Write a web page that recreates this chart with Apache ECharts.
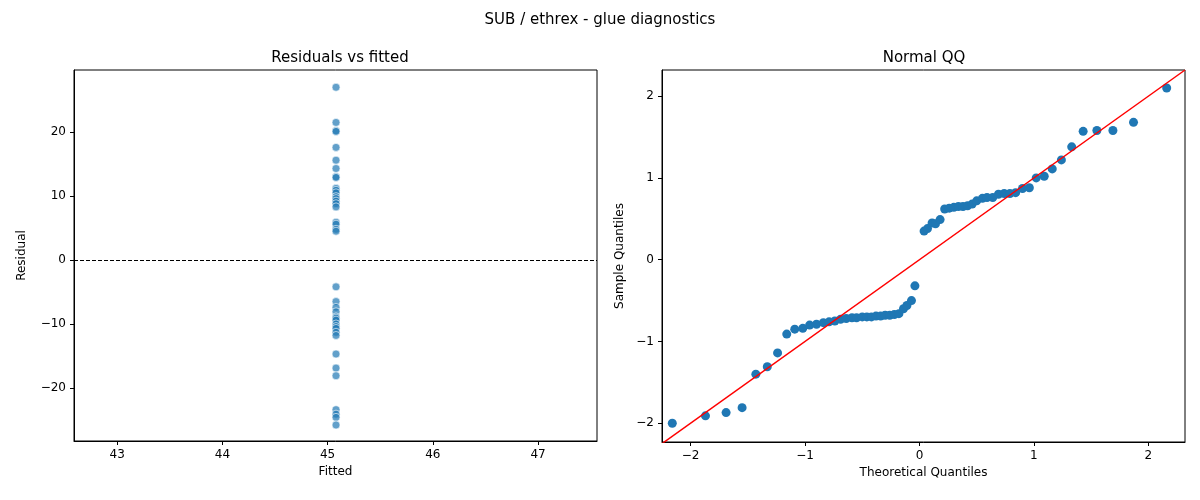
<!DOCTYPE html>
<html>
<head>
<meta charset="utf-8">
<script src="https://cdn.jsdelivr.net/npm/echarts@6/dist/echarts.min.js"></script>
<style>html,body{margin:0;padding:0;background:#fff}#chart{width:1200px;height:500px}</style>
</head>
<body>
<div id="chart"></div>
<script>
// residuals vs fitted (fitted is constant)
var fittedValue = 45.08;
var residuals = [27.0, 21.5, 20.2, 20.1, 17.6, 15.6, 14.3, 13.0, 12.9, 11.2, 10.9, 10.5, 9.9, 9.6, 9.2, 8.8, 8.3, 5.9, 5.6, 4.8, 4.5,
    -4.2, -6.5, -7.4, -8.1, -8.9, -9.1, -9.4, -10.0, -10.4, -10.7, -11.3, -11.8, -14.7, -16.9, -18.1, -23.4, -24.1, -24.6, -25.8];

// normal QQ
var theoQ = [-2.16, -1.87, -1.69, -1.55, -1.43, -1.33, -1.24, -1.16, -1.09, -1.02, -0.96, -0.90, -0.84, -0.79, -0.74, -0.69,
    -0.64, -0.59, -0.55, -0.50, -0.46, -0.42, -0.38, -0.34, -0.30, -0.26, -0.22, -0.18, -0.14, -0.11, -0.07, -0.04,
    0.04, 0.07, 0.11, 0.14, 0.18, 0.22, 0.26, 0.30, 0.34, 0.38, 0.42, 0.46, 0.50, 0.55, 0.59, 0.64,
    0.69, 0.74, 0.79, 0.84, 0.90, 0.96, 1.02, 1.09, 1.16, 1.24, 1.33, 1.43, 1.55, 1.69, 1.87, 2.16];
var sampleQ = [-2.00, -1.91, -1.87, -1.81, -1.40, -1.31, -1.14, -0.91, -0.85, -0.84, -0.80, -0.79, -0.77, -0.76, -0.75, -0.73,
    -0.72, -0.71, -0.71, -0.70, -0.70, -0.70, -0.69, -0.69, -0.68, -0.68, -0.67, -0.66, -0.60, -0.56, -0.50, -0.32,
    0.35, 0.38, 0.45, 0.44, 0.49, 0.62, 0.63, 0.64, 0.65, 0.65, 0.66, 0.68, 0.72, 0.75, 0.76, 0.76,
    0.80, 0.81, 0.81, 0.82, 0.87, 0.88, 1.00, 1.02, 1.11, 1.22, 1.38, 1.57, 1.58, 1.58, 1.68, 2.10];
var refLine = [[-2.25, -2.25], [2.32, 2.32]];

var font = 'DejaVu Sans';
var residData = residuals.map(function (r) { return [fittedValue, r]; });
var qqData = theoQ.map(function (x, i) { return [x, sampleQ[i]]; });

function intLabel(v) {
    return Math.abs(v - Math.round(v)) < 1e-9 ? String(Math.round(v)).replace('-', '\u2212') : '';
}

function axisCommon(extra) {
    var a = {
        axisLine: { show: true, onZero: false, lineStyle: { color: '#000' } },
        axisTick: { show: true, length: 4, lineStyle: { color: '#000' } },
        axisLabel: { color: '#000', fontSize: 12, fontFamily: font, showMinLabel: false, showMaxLabel: false, formatter: intLabel },
        splitLine: { show: false },
        nameTextStyle: { color: '#000', fontSize: 12, fontFamily: font },
        nameLocation: 'middle'
    };
    for (var k in extra) a[k] = extra[k];
    return a;
}

var chart = echarts.init(document.getElementById('chart'));
chart.setOption({
    animation: false,
    title: [
        { text: 'SUB / ethrex - glue diagnostics', left: 'center', top: 8, textStyle: { fontSize: 15, fontWeight: 'normal', fontFamily: font, color: '#000' } },
        { text: 'Residuals vs fitted', left: 335, textAlign: 'center', top: 46, textStyle: { fontSize: 15, fontWeight: 'normal', fontFamily: font, color: '#000' } },
        { text: 'Normal QQ', left: 919, textAlign: 'center', top: 46, textStyle: { fontSize: 15, fontWeight: 'normal', fontFamily: font, color: '#000' } }
    ],
    grid: [
        { left: 74, top: 70, width: 523, height: 371, show: true, borderColor: '#000', borderWidth: 1 },
        { left: 662, top: 70, width: 523, height: 372, show: true, borderColor: '#000', borderWidth: 1 }
    ],
    xAxis: [
        axisCommon({ gridIndex: 0, type: 'value', min: 42.59, max: 47.56, name: 'Fitted', nameGap: 22 }),
        axisCommon({ gridIndex: 1, type: 'value', min: -2.25, max: 2.32, name: 'Theoretical Quantiles', nameGap: 22 })
    ],
    yAxis: [
        axisCommon({ gridIndex: 0, type: 'value', min: -28.3, max: 29.7, name: 'Residual', nameGap: 46,
            axisLabel: { color: '#000', fontSize: 12, fontFamily: font, showMinLabel: false, showMaxLabel: false,
                formatter: function (v) { return v % 10 === 0 ? String(v).replace('-', '\u2212') : ''; } } }),
        axisCommon({ gridIndex: 1, type: 'value', min: -2.23, max: 2.32, name: 'Sample Quantiles', nameGap: 36 })
    ],
    series: [
        {
            type: 'scatter', xAxisIndex: 0, yAxisIndex: 0, data: residData, symbolSize: 8,
            itemStyle: { color: 'rgba(31,119,180,0.7)', borderColor: '#fff', borderWidth: 0.6, opacity: 1 },
            markLine: {
                silent: true, symbol: 'none', label: { show: false },
                lineStyle: { color: '#000', type: [4, 2], width: 1 },
                data: [{ yAxis: 0 }]
            }
        },
        {
            type: 'scatter', xAxisIndex: 1, yAxisIndex: 1, data: qqData, symbolSize: 9,
            itemStyle: { color: '#1f77b4', opacity: 1 }
        },
        {
            type: 'line', xAxisIndex: 1, yAxisIndex: 1, data: refLine, symbol: 'none', z: 3,
            lineStyle: { color: '#ff0000', width: 1.5 }
        }
    ]
});
</script>
</body>
</html>
